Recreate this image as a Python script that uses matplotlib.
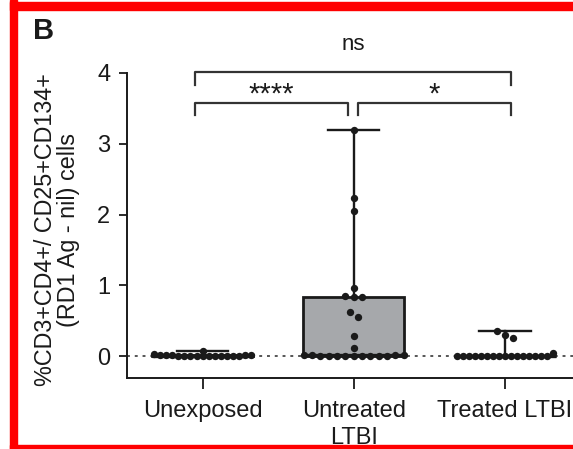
import numpy as np
import matplotlib
matplotlib.use('Agg')
import matplotlib.pyplot as plt
from matplotlib.patches import Rectangle

plt.rcParams['font.family'] = ['Liberation Sans', 'DejaVu Sans']

# data
groups = ['Unexposed', 'Untreated\nLTBI', 'Treated LTBI']
unexposed = [0.07, 0.03, 0.02, 0.01, 0.01, 0.0, 0.0, 0.0, 0.0, 0.0, 0.0,
             0.0, 0.0, 0.0, 0.0, 0.0, 0.01, 0.02]
untreated = [3.2, 2.23, 2.05, 0.96, 0.85, 0.84, 0.83, 0.62, 0.55, 0.28,
             0.11, 0.02, 0.02, 0.0, 0.0, 0.0, 0.0, 0.0, 0.0, 0.0, 0.0,
             0.0, 0.02, 0.02]
treated = [0.0, 0.0, 0.0, 0.0, 0.0, 0.0, 0.0, 0.0, 0.36, 0.3, 0.26, 0.0,
           0.0, 0.0, 0.0, 0.0, 0.0, 0.0, 0.0, 0.04]
yticks = [0, 1, 2, 3, 4]
# comparisons: (left group, right group, label, level)
comparisons = [(0, 1, '****', 0), (1, 2, '*', 0), (0, 2, 'ns', 1)]

ink = '#1a1a1a'


def swarm_offsets(vals, step=0.04, row_lim=0.05):
    """spread the points sitting on the zero row, nudge close ones apart"""
    vals = np.asarray(vals)
    offs = np.zeros(len(vals))
    row = np.where(vals < row_lim)[0]
    offs[row] = (np.arange(len(row)) - (len(row) - 1) / 2.0) * step
    rest = [i for i in np.argsort(-vals) if vals[i] >= row_lim]
    clusters = []
    for i in rest:
        if clusters and abs(vals[clusters[-1][-1]] - vals[i]) < 0.1:
            clusters[-1].append(i)
        else:
            clusters.append([i])
    for c in clusters:
        for k, i in enumerate(c):
            offs[i] = (k - (len(c) - 1) / 2.0) * 0.055
    return offs


fig = plt.figure(figsize=(5.73, 4.49), dpi=100)
ax = fig.add_axes([127 / 573, 71 / 449, 453.5 / 573, 305 / 449])

data = [unexposed, untreated, treated]
ax.axhline(0, color='#555555', lw=1.4, ls=(0, (1.5, 2.5)), zorder=1)

ax.boxplot(data, positions=[0, 1, 2], widths=0.67, whis=(0, 100),
           patch_artist=True, showfliers=False,
           boxprops=dict(facecolor='#a6a8ab', edgecolor=ink, lw=2.0),
           medianprops=dict(color=ink, lw=2.4),
           whiskerprops=dict(color=ink, lw=1.7),
           capprops=dict(color=ink, lw=1.7), capwidths=0.34, zorder=2)

for i, vals in enumerate(data):
    x = i + swarm_offsets(vals, step=0.04 if i != 1 else 0.055)
    ax.scatter(x, vals, s=28, color=ink, zorder=3, linewidths=0)

ax.set_xlim(-0.5, 2.5)
ax.set_ylim(-0.31, 4.0)
ax.set_yticks(yticks)
ax.set_xticks([0, 1, 2])
ax.set_xticklabels(groups, fontsize=17, color=ink, linespacing=1.3)
ax.tick_params(axis='y', labelsize=17, length=6, width=1.3, pad=6,
               colors=ink)
ax.tick_params(axis='x', length=8, width=1.3, pad=8, colors=ink)
ax.spines['top'].set_visible(False)
ax.spines['right'].set_visible(False)
for s in ['left', 'bottom']:
    ax.spines[s].set_linewidth(1.4)
    ax.spines[s].set_color(ink)

# significance brackets
for a, b, label, level in comparisons:
    x0 = a - 0.05 if a == 0 else a + 0.03
    x1 = b - 0.04 if b == 1 else b + 0.04
    ytop = 3.58 + level * 0.43
    ax.plot([x0, x0, x1, x1], [ytop - 0.18, ytop, ytop, ytop - 0.18],
            color='#333333', lw=1.6, clip_on=False)
    if label == 'ns':
        ax.text((x0 + x1) / 2, ytop + 0.39, label, ha='center', va='center',
                fontsize=16, color=ink, clip_on=False)
    else:
        ax.text((x0 + x1) / 2, ytop + 0.0, label, ha='center',
                va='baseline', fontsize=21, color=ink, clip_on=False)

fig.text(44 / 573, 1 - 31 / 449, 'B', fontsize=21, fontweight='bold',
         color=ink, ha='center', va='center')
fig.text(57 / 573, 1 - 230 / 449, '%CD3+CD4+/ CD25+CD134+\n(RD1 Ag - nil) cells',
         rotation=90, ha='center', va='center', fontsize=16.8, color=ink,
         linespacing=1.0)

# red frame
red = '#ff0000'
fig.patches.append(Rectangle((10 / 573, 0), 7 / 573, 1, transform=fig.transFigure,
                             color=red, zorder=10))
fig.patches.append(Rectangle((10 / 573, 1 - 10 / 449), 1, 8 / 449,
                             transform=fig.transFigure, color=red, zorder=10))
fig.patches.append(Rectangle((10 / 573, 0), 1, 4 / 449,
                             transform=fig.transFigure, color=red, zorder=10))

fig.savefig('out.png', dpi=100)
